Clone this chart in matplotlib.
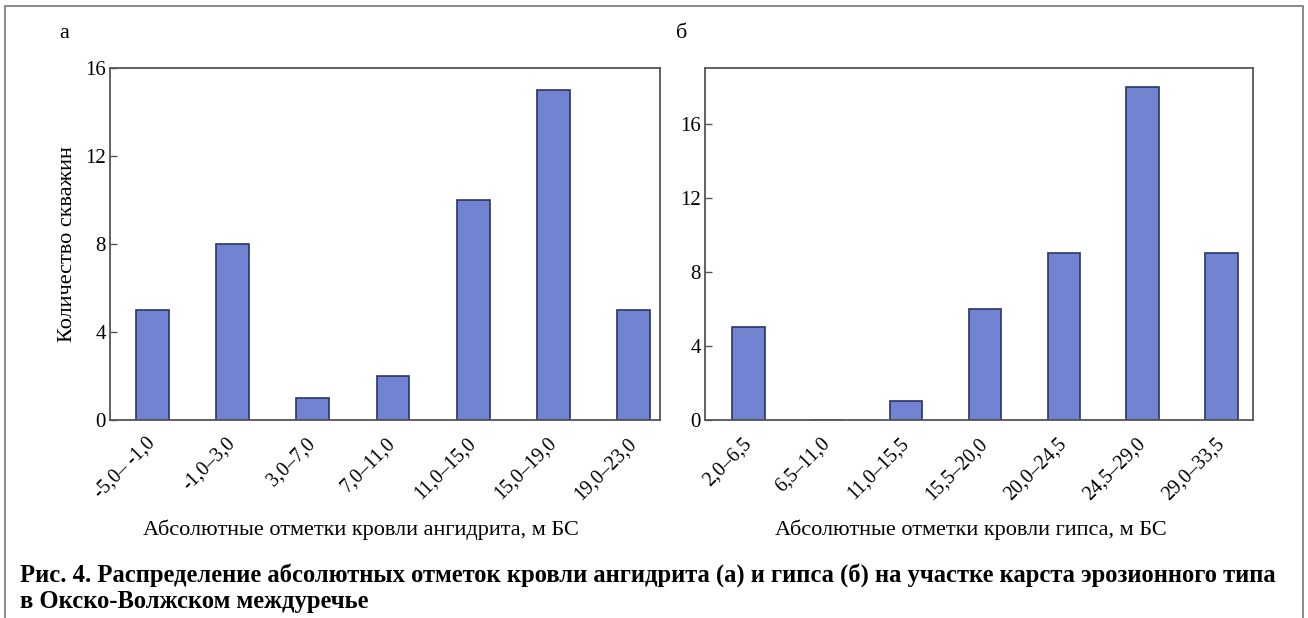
import matplotlib.pyplot as plt
from matplotlib.patches import Rectangle

plt.rcParams['font.family'] = ['Liberation Serif', 'DejaVu Serif']

# panel a: anhydrite roof
cats_a = ['-5,0– -1,0', '-1,0–3,0', '3,0–7,0', '7,0–11,0', '11,0–15,0', '15,0–19,0', '19,0–23,0']
vals_a = [5, 8, 1, 2, 10, 15, 5]
# panel b: gypsum roof
cats_b = ['2,0–6,5', '6,5–11,0', '11,0–15,5', '15,5–20,0', '20,0–24,5', '24,5–29,0', '29,0–33,5']
vals_b = [5, 0, 1, 6, 9, 18, 9]
yticks = [0, 4, 8, 12, 16]

bar_color = '#7283d2'
edge_color = '#2b3466'
spine_color = '#555555'

fig = plt.figure(figsize=(13.08, 6.18), dpi=100)
fig.patch.set_facecolor('white')

ax1 = fig.add_axes([0.0841, 0.3204, 0.4205, 0.5696])
ax2 = fig.add_axes([0.539, 0.3204, 0.419, 0.5696])


def draw(ax, cats, vals, ylim, xlim):
    x = list(range(len(cats)))
    ax.bar(x, vals, width=0.41, color=bar_color, edgecolor=edge_color, linewidth=1.2)
    ax.set_xlim(*xlim)
    ax.set_ylim(*ylim)
    ax.set_yticks(yticks)
    ax.set_xticks(x)
    ax.set_xticklabels(cats, rotation=45, ha='right', va='center',
                       rotation_mode='anchor', fontsize=14.3)
    ax.tick_params(axis='x', length=0, pad=15)
    ax.tick_params(axis='y', direction='in', length=5, width=1, color=spine_color,
                   labelsize=15, pad=3)
    for s in ax.spines.values():
        s.set_color(spine_color)
        s.set_linewidth(1.3)


draw(ax1, cats_a, vals_a, (0, 16), (-0.53, 6.33))
draw(ax2, cats_b, vals_b, (0, 19), (-0.55, 6.4))

ax1.set_ylabel('Количество скважин', fontsize=16, labelpad=6)

fig.text(0.045, 0.945, 'а', fontsize=16, ha='left', va='center')
fig.text(0.517, 0.945, 'б', fontsize=16, ha='left', va='center')

fig.text(0.276, 0.142, 'Абсолютные отметки кровли ангидрита, м БС', fontsize=16,
         ha='center', va='center')
fig.text(0.742, 0.142, 'Абсолютные отметки кровли гипса, м БС', fontsize=16,
         ha='center', va='center')

fig.text(0.015, 0.07,
         'Рис. 4. Распределение абсолютных отметок кровли ангидрита (а) и гипса (б) '
         'на участке карста эрозионного типа',
         fontsize=17.7, fontweight='bold', ha='left', va='center')
fig.text(0.015, 0.026, 'в Окско-Волжском междуречье', fontsize=17.7,
         fontweight='bold', ha='left', va='center')

# page frame around the figure
fig.patches.append(Rectangle((0.004, -0.05), 0.992, 1.04, transform=fig.transFigure,
                             fill=False, edgecolor='#777777', linewidth=1.2))

fig.savefig('out.png', dpi=100)
